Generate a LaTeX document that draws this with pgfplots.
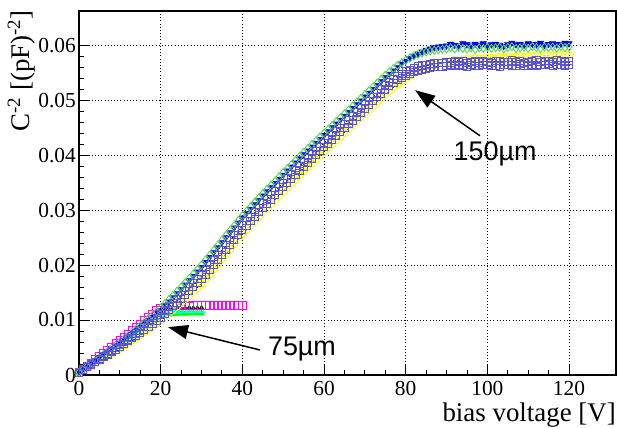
\documentclass[border=0pt]{standalone}
\usepackage{pgfplots}
\pgfplotsset{compat=1.18}
\usepackage{pgfplotstable}
\usepackage{fontspec}
\setmainfont{Liberation Serif}
\newfontfamily\helv{Liberation Sans}
\usetikzlibrary{arrows.meta}
\definecolor{rgreen}{HTML}{59D454}
\definecolor{rslate}{HTML}{5954D8}
\definecolor{ryellow}{HTML}{FFFF00}
\definecolor{rcyan}{HTML}{00FFFF}
\definecolor{rgreenb}{HTML}{00FF00}
\definecolor{rmag}{HTML}{FF00FF}
\definecolor{rblue}{HTML}{0000FF}

% 150 um sensors
\pgfplotstableread{
V G B Sa Sb Y
0 0.00050 0.00045 0.00040 0.00035 0.00030
1 0.00104 0.00102 0.00098 0.00095 0.00093
2 0.00158 0.00154 0.00146 0.00141 0.00135
3 0.00212 0.00206 0.00194 0.00186 0.00178
4 0.00266 0.00258 0.00242 0.00231 0.00221
5 0.00320 0.00310 0.00290 0.00277 0.00263
6 0.00376 0.00364 0.00340 0.00324 0.00308
7 0.00432 0.00418 0.00390 0.00371 0.00353
8 0.00488 0.00472 0.00440 0.00419 0.00397
9 0.00544 0.00526 0.00490 0.00466 0.00442
10 0.00600 0.00580 0.00540 0.00513 0.00487
11 0.00660 0.00638 0.00594 0.00565 0.00535
12 0.00720 0.00696 0.00648 0.00616 0.00584
13 0.00780 0.00754 0.00702 0.00667 0.00633
14 0.00840 0.00812 0.00756 0.00719 0.00681
15 0.00900 0.00870 0.00810 0.00770 0.00730
16 0.00964 0.00932 0.00868 0.00825 0.00783
17 0.01028 0.00994 0.00926 0.00881 0.00835
18 0.01092 0.01056 0.00984 0.00936 0.00888
19 0.01156 0.01118 0.01042 0.00991 0.00941
20 0.01220 0.01180 0.01100 0.01047 0.00993
21 0.01296 0.01256 0.01170 0.01114 0.01058
22 0.01372 0.01332 0.01240 0.01181 0.01123
23 0.01448 0.01408 0.01310 0.01249 0.01187
24 0.01524 0.01484 0.01380 0.01316 0.01252
25 0.01600 0.01560 0.01450 0.01383 0.01317
26 0.01680 0.01640 0.01524 0.01455 0.01385
27 0.01760 0.01720 0.01598 0.01526 0.01454
28 0.01840 0.01800 0.01672 0.01597 0.01523
29 0.01920 0.01880 0.01746 0.01669 0.01591
30 0.02000 0.01960 0.01820 0.01740 0.01660
31 0.0209 0.0205 0.0191 0.0183 0.0175
32 0.0218 0.0214 0.0200 0.0192 0.0184
33 0.0227 0.0223 0.0209 0.0201 0.0193
34 0.0236 0.0232 0.0218 0.0210 0.0202
35 0.0245 0.0241 0.0227 0.0219 0.0211
36 0.0254 0.0250 0.0236 0.0228 0.0220
37 0.0263 0.0259 0.0245 0.0237 0.0229
38 0.0272 0.0268 0.0254 0.0246 0.0238
39 0.0281 0.0277 0.0263 0.0255 0.0247
40 0.0290 0.0286 0.0272 0.0264 0.0256
41 0.0298 0.0294 0.0280 0.0272 0.0264
42 0.0306 0.0302 0.0288 0.0280 0.0272
43 0.0314 0.0310 0.0296 0.0288 0.0280
44 0.0322 0.0318 0.0304 0.0296 0.0288
45 0.0330 0.0326 0.0312 0.0304 0.0296
46 0.03376 0.03336 0.03196 0.03116 0.03036
47 0.03452 0.03412 0.03272 0.03192 0.03112
48 0.03528 0.03488 0.03348 0.03268 0.03188
49 0.03604 0.03564 0.03424 0.03344 0.03264
50 0.03680 0.03640 0.03500 0.03420 0.03340
51 0.03754 0.03714 0.03574 0.03494 0.03414
52 0.03828 0.03788 0.03648 0.03568 0.03488
53 0.03902 0.03862 0.03722 0.03642 0.03562
54 0.03976 0.03936 0.03796 0.03716 0.03636
55 0.0405 0.0401 0.0387 0.0379 0.0371
56 0.0412 0.0408 0.0394 0.0386 0.0378
57 0.0419 0.0415 0.0401 0.0393 0.0385
58 0.0426 0.0422 0.0408 0.0400 0.0392
59 0.0433 0.0429 0.0415 0.0407 0.0399
60 0.0440 0.0436 0.0422 0.0414 0.0406
61 0.0447 0.0443 0.0429 0.0421 0.0413
62 0.0454 0.0450 0.0436 0.0428 0.0420
63 0.0461 0.0457 0.0443 0.0435 0.0427
64 0.0468 0.0464 0.0450 0.0442 0.0434
65 0.0475 0.0471 0.0457 0.0449 0.0441
66 0.0482 0.0478 0.0464 0.0456 0.0448
67 0.0489 0.0485 0.0471 0.0463 0.0455
68 0.0496 0.0492 0.0478 0.0470 0.0462
69 0.0503 0.0499 0.0485 0.0477 0.0469
70 0.0510 0.0506 0.0492 0.0484 0.0476
71 0.0517 0.0513 0.0499 0.0491 0.0483
72 0.0524 0.0520 0.0506 0.0498 0.0490
73 0.0531 0.0527 0.0513 0.0505 0.0497
74 0.0538 0.0534 0.0520 0.0512 0.0504
75 0.05450 0.05410 0.05270 0.05190 0.05110
76 0.05515 0.05475 0.05330 0.05255 0.05175
77 0.05575 0.05535 0.05385 0.05310 0.05235
78 0.05630 0.05595 0.05435 0.05360 0.05290
79 0.05680 0.05660 0.05480 0.05405 0.05345
80 0.05725 0.05710 0.05520 0.05445 0.05400
81 0.05765 0.05760 0.05555 0.05480 0.05450
82 0.05800 0.05805 0.05585 0.05510 0.05495
83 0.05830 0.05845 0.05610 0.05535 0.05535
84 0.05855 0.05880 0.05630 0.05555 0.05570
85 0.05875 0.05910 0.05645 0.05570 0.05600
86 0.05890 0.05935 0.05655 0.05585 0.05625
87 0.05905 0.05955 0.05665 0.05595 0.05645
88 0.05915 0.05970 0.05675 0.05605 0.05665
89 0.05925 0.05980 0.05680 0.05610 0.05680
90 0.05930 0.05990 0.05685 0.05615 0.05695
91 0.0595 0.0602 0.05685 0.05635 0.05705
92 0.0593 0.0600 0.05705 0.05615 0.05725
93 0.0596 0.0599 0.05695 0.05645 0.05715
94 0.0594 0.0603 0.05715 0.05625 0.05730
95 0.0593 0.0601 0.05675 0.05605 0.05745
96 0.0595 0.0599 0.05695 0.05635 0.05730
97 0.0592 0.0602 0.05705 0.05625 0.05755
98 0.0595 0.0600 0.05685 0.05615 0.05750
99 0.0594 0.0603 0.05715 0.05635 0.05745
100 0.0596 0.0599 0.05695 0.05645 0.05770
101 0.0594 0.0601 0.05680 0.05620 0.05763
102 0.0595 0.0602 0.05710 0.05630 0.05756
103 0.0596 0.0600 0.05710 0.05610 0.05779
104 0.0593 0.0598 0.05690 0.05640 0.05772
105 0.0596 0.0601 0.05700 0.05640 0.05785
106 0.0597 0.0604 0.05720 0.05630 0.05768
107 0.0594 0.0601 0.05690 0.05620 0.05781
108 0.0595 0.0602 0.05710 0.05650 0.05794
109 0.0596 0.0600 0.05680 0.05630 0.05777
110 0.0594 0.0603 0.05700 0.05620 0.05790
111 0.05975 0.0602 0.05715 0.05645 0.05803
112 0.05955 0.0601 0.05725 0.05615 0.05796
113 0.05935 0.0604 0.05695 0.05635 0.05789
114 0.05965 0.0600 0.05705 0.05645 0.05812
115 0.05955 0.0602 0.05715 0.05655 0.05805
116 0.05965 0.0603 0.05695 0.05625 0.05798
117 0.05945 0.0601 0.05725 0.05635 0.05821
118 0.05975 0.0602 0.05705 0.05645 0.05814
119 0.05955 0.0604 0.05695 0.05625 0.05827
120 0.05965 0.0603 0.05715 0.05635 0.05810
}\tabA

% 75 um sensors
\pgfplotstableread{
V M K C Gt
0 0.00055 0.00045 0.00045 0.00040
1 0.00107 0.00098 0.00098 0.00096
2 0.00164 0.00150 0.00148 0.00142
3 0.00221 0.00203 0.00197 0.00188
4 0.00278 0.00256 0.00246 0.00234
5 0.00335 0.00310 0.00295 0.00280
6 0.00394 0.00365 0.00346 0.00328
7 0.00453 0.00420 0.00397 0.00376
8 0.00512 0.00475 0.00448 0.00424
9 0.00571 0.00530 0.00499 0.00472
10 0.00630 0.00586 0.00550 0.00520
11 0.00690 0.00645 0.00610 0.00580
12 0.00750 0.00705 0.00670 0.00640
13 0.00810 0.00765 0.00730 0.00700
14 0.00870 0.00825 0.00790 0.00760
15 0.00930 0.00885 0.00850 0.00820
16 0.00990 0.00945 0.00905 0.00875
17 0.01050 0.01005 0.00960 0.00930
18 0.01110 0.01065 0.01015 0.00980
19 0.01170 0.01120 0.01065 0.01025
20 0.01215 0.01165 0.01100 0.01060
21 0.01240 0.01195 0.01125 0.01085
22 0.01250 0.01210 0.01140 0.01100
23 0.01255 0.01215 0.01150 0.01110
24 0.01260 0.01220 0.01160 0.01115
25 0.01265 0.01215 0.01165 0.01120
26 0.01260 0.01220 0.01170 0.01115
27 0.01255 0.01225 0.01165 0.01120
28 0.01260 0.01220 0.01170 0.01125
29 0.01265 0.01220 0.01175 0.01120
30 0.01260 0.01225 0.01170 0.01120
31 0.01260 nan nan nan
32 0.01265 nan nan nan
33 0.01260 nan nan nan
34 0.01265 nan nan nan
35 0.01260 nan nan nan
36 0.01265 nan nan nan
37 0.01270 nan nan nan
38 0.01265 nan nan nan
39 0.01260 nan nan nan
40 0.01265 nan nan nan
}\tabB

\begin{document}
\begin{tikzpicture}
\useasboundingbox (-79bp,-53bp) rectangle (538bp,375bp);
\begin{axis}[
  at={(0,0)}, anchor=south west,
  scale only axis, width=537bp, height=364bp,
  xmin=0, xmax=131.5, ymin=0, ymax=0.0662,
  clip=false,
  xtick={0,20,40,60,80,100,120},
  ytick={0,0.01,0.02,0.03,0.04,0.05,0.06},
  minor x tick num=3, minor y tick num=4,
  tick align=inside, tick pos=left,
  major tick length=11bp, minor tick length=5.5bp,
  every tick/.style={black, line width=0.9pt},
  grid=major,
  major grid style={black, line width=0.8pt, dash pattern=on 0.8pt off 2.4pt},
  axis line style={line width=1.1pt},
  scaled y ticks=false,
  /pgf/number format/assume math mode=true,
  yticklabel style={/pgf/number format/fixed, /pgf/number format/precision=2, inner sep=0pt, xshift=-3bp},
  xticklabel style={inner sep=0pt, yshift=-6bp},
  tick label style={font=\rmfamily\fontsize{21.5}{23}\selectfont},
  xlabel={bias voltage [V]},
  ylabel={C\textsuperscript{-2} [(pF)\textsuperscript{-2}]},
  xlabel style={font=\rmfamily\fontsize{27}{29}\selectfont, inner sep=0pt, at={(axis description cs:1,-0.1264)}, anchor=base east},
  ylabel style={font=\rmfamily\fontsize{27}{29}\selectfont, inner sep=0pt, at={(axis description cs:-0.0931,1.002)}, anchor=base east},
]
% 75 um
\addplot[only marks, rgreenb, mark=triangle*, mark size=3.2pt, mark options={line width=0.8pt}] table[x=V, y=Gt] {\tabB};
\addplot[only marks, rcyan, mark=triangle, mark size=3.5pt, mark options={line width=0.9pt}] table[x=V, y=C] {\tabB};
\addplot[only marks, black!85, mark=triangle*, mark size=2.6pt, mark options={line width=0.6pt}] table[x=V, y=K] {\tabB};
\addplot[only marks, rmag, mark=square, mark size=3.8pt, mark options={line width=0.9pt}] table[x=V, y=M] {\tabB};
% 150 um
\addplot[only marks, ryellow, mark=o, mark size=3.8pt, mark options={line width=1pt}] table[x=V, y=Y] {\tabA};
\addplot[only marks, rblue, mark=triangle*, mark size=3.6pt, mark options={rotate=180, line width=0.6pt}] table[x=V, y=B] {\tabA};
\addplot[only marks, rgreen, mark=diamond, mark size=4pt, mark options={line width=0.9pt}] table[x=V, y=G] {\tabA};
\addplot[only marks, rslate, mark=square, mark size=3.6pt, mark options={line width=0.9pt}] table[x=V, y=Sb] {\tabA};
\addplot[only marks, rslate, mark=square, mark size=3.6pt, mark options={line width=0.9pt}] table[x=V, y=Sa] {\tabA};
% black dashed guides
\addplot[black, line width=0.7pt, dash pattern=on 1.2pt off 3pt] table[x=V, y=B] {\tabA};
\addplot[black, line width=0.7pt, dash pattern=on 1.2pt off 3pt] table[x=V, y=Sa] {\tabA};
\addplot[black, line width=0.7pt, dash pattern=on 1.2pt off 3pt] table[x=V, y=Y] {\tabA};
\addplot[black, line width=0.7pt, dash pattern=on 1.2pt off 3pt] table[x=V, y=K] {\tabB};
% annotations
\draw[line width=1.5pt, -{Triangle[length=20bp, width=14bp]}] (axis cs:98.2,0.0435) -- (axis cs:82.3,0.0518);
\node[font=\helv\fontsize{27}{29}\selectfont] at (axis cs:101.9,0.0402) {150µm};
\draw[line width=1.5pt, -{Triangle[length=20bp, width=14bp]}] (axis cs:44.3,0.00455) -- (axis cs:21.8,0.0087);
\node[font=\helv\fontsize{27}{29}\selectfont] at (axis cs:54.6,0.0047) {75µm};
\end{axis}
\end{tikzpicture}
\end{document}
